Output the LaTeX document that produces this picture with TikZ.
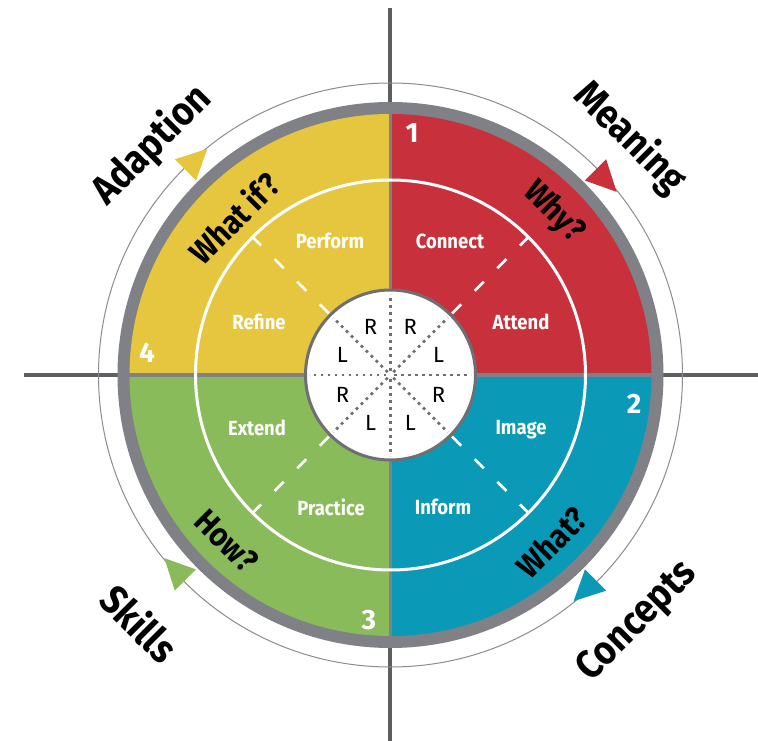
\documentclass[tikz,border=0pt]{standalone}
\usepackage{fontspec}
\setmainfont{Fira Sans}
\newfontfamily\cfont[FakeStretch=0.9]{Fira Sans}
\definecolor{cyel}{HTML}{E6C63F}
\definecolor{cred}{HTML}{C8303C}
\definecolor{cblu}{HTML}{0A9AB8}
\definecolor{cgrn}{HTML}{8ABB5A}
\definecolor{cring}{HTML}{808187}
\definecolor{caxis}{HTML}{5E5E62}
\definecolor{cthin}{HTML}{8C8C90}
\definecolor{cdot}{HTML}{6E6E73}
\tikzset{
  inlab/.style={text=white,font=\cfont\fontsize{20.5}{24}\selectfont\bfseries,inner sep=0pt},
  numlab/.style={text=white,font=\fontsize{28}{32}\selectfont\bfseries,inner sep=0pt},
  qlab/.style={text=black,font=\cfont\fontsize{33}{38}\selectfont\bfseries,inner sep=0pt},
  outlab/.style={text=black,font=\cfont\fontsize{40}{46}\selectfont\bfseries,inner sep=0pt},
  rllab/.style={text=black,font=\fontsize{22}{26}\selectfont,inner sep=0pt},
  axisline/.style={draw=caxis,line width=4pt},
  divider/.style={draw=cring,line width=3.5pt},
  dashdiag/.style={draw=white,line width=2.5pt,dash pattern=on 13pt off 19pt},
  dotline/.style={draw=cdot,line width=2.8pt,dash pattern=on 2.8pt off 4.2pt}
}
\begin{document}
\begin{tikzpicture}[x=1pt,y=1pt]
\useasboundingbox (-390.5,-366) rectangle (367.5,375);
\fill[white] (-390.5,-366) rectangle (367.5,375);
% axis lines
\draw[axisline] (-366.5,0) -- (367.5,0);
\draw[axisline] (0,367) -- (0,-366);
% thin outer circle
\draw[cthin,line width=1pt] (0,0) circle (292);
% grey ring
\fill[cring] (0,0) circle (273);
% quadrants
\fill[cred] (0,0) -- (0:261) arc (0:90:261) -- cycle;
\fill[cyel] (0,0) -- (90:261) arc (90:180:261) -- cycle;
\fill[cgrn] (0,0) -- (180:261) arc (180:270:261) -- cycle;
\fill[cblu] (0,0) -- (270:261) arc (270:360:261) -- cycle;
% dividers
\draw[divider] (-261,0) -- (261,0);
\draw[divider] (0,-261) -- (0,261);
% white ring
\draw[white,line width=3pt] (0,0) circle (195);
% dashed diagonals
\foreach \a in {45,135,225,315} \draw[dashdiag] (\a:196) -- (\a:86);
% center circle
\draw[fill=white,draw=cdot,line width=3pt] (0,0) circle (85);
\foreach \a in {0,45,...,315} \draw[dotline] (\a:4) -- (\a:81);
% R / L letters
\node[rllab] (r1) at (112.5:52) {R};
\node[rllab] (r2) at (67.5:52) {R};
\node[rllab] (l1) at (157.5:52) {L};
\node[rllab] (l2) at (22.5:52) {L};
\node[rllab] (r3) at (202.5:52) {R};
\node[rllab] (r4) at (-22.5:52) {R};
\node[rllab] (l3) at (247.5:52) {L};
\node[rllab] (l4) at (-67.5:52) {L};
% inner labels
\node[inlab] (perform) at (-60.5,134) {Perform};
\node[inlab] (connect) at (59.5,134) {Connect};
\node[inlab] (refine) at (-131.5,53) {Refine};
\node[inlab] (attend) at (130.5,53) {Attend};
\node[inlab] (extend) at (-133.5,-53) {Extend};
\node[inlab] (image) at (130.5,-55) {Image};
\node[inlab] (practice) at (-59.5,-132) {Practice};
\node[inlab] (inform) at (52.5,-132) {Inform};
% numbers
\node[numlab] (n1) at (21.5,242) {1};
\node[numlab] (n2) at (243.5,-29) {2};
\node[numlab] (n3) at (-21.5,-245) {3};
\node[numlab] (n4) at (-243.5,22) {4};
% question words
\node[qlab,rotate=45] (whatif) at (-157,157) {What if?};
\node[qlab,rotate=-45] (why) at (163,163) {Why?};
\node[qlab,rotate=-45] (how) at (-164,-166) {How?};
\node[qlab,rotate=45] (what) at (161,-167) {What?};
% outer labels
\node[outlab,rotate=45] (adaption) at (-238.5,230) {Adaption};
\node[outlab,rotate=-45] (meaning) at (239.5,237) {Meaning};
\node[outlab,rotate=-45] (skills) at (-250.5,-248) {Skills};
\node[outlab,rotate=45] (concepts) at (247.5,-247) {Concepts};
% arrow triangles
\fill[cyel] (135:275) -- (135:305) -- (129:291) -- cycle;
\fill[cred] (45:275) -- (45:305) -- (39:291) -- cycle;
\fill[cblu] (-45:275) -- (-45:305) -- (-51:291) -- cycle;
\fill[cgrn] (225:275) -- (225:305) -- (219:291) -- cycle;
\end{tikzpicture}
\end{document}
